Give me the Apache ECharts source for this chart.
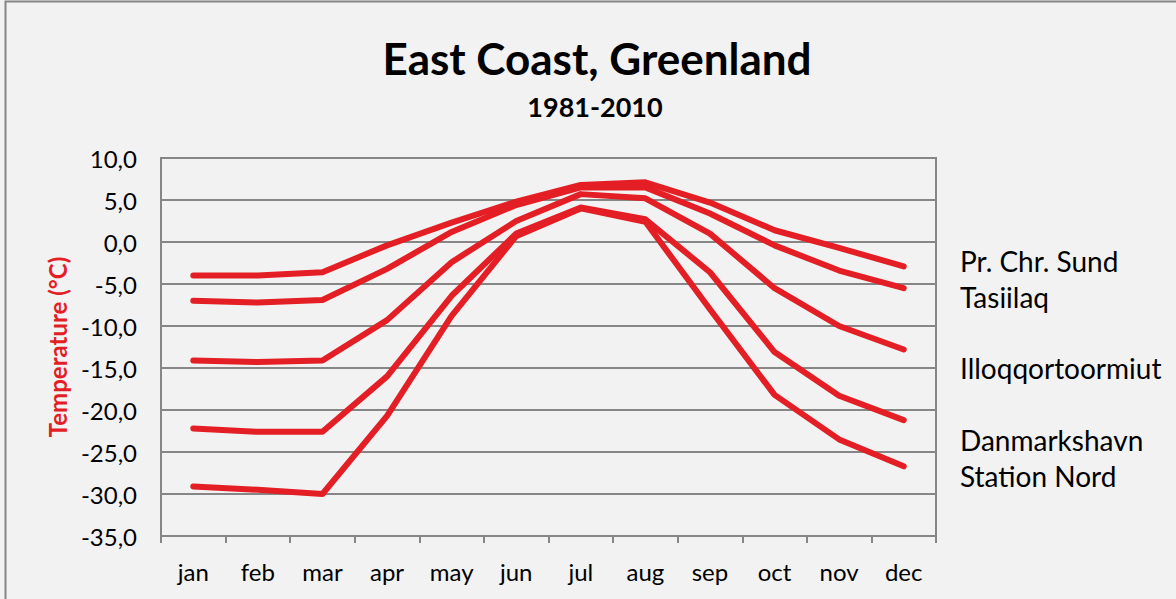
<!DOCTYPE html>
<html>
<head>
<meta charset="utf-8">
<script src="https://cdn.jsdelivr.net/npm/echarts@6/dist/echarts.min.js"></script>
<style>
html,body{margin:0;padding:0;background:#f2f2f2;}
#chart{width:1176px;height:599px;}
</style>
</head>
<body>
<div id="chart"></div>
<script>
var months = ['jan','feb','mar','apr','may','jun','jul','aug','sep','oct','nov','dec'];
var prChrSund       = [-4.0, -4.0, -3.6, -0.4,  2.3, 4.8, 6.8, 7.1,  4.7,   1.4,  -0.7,  -2.9];
var tasiilaq        = [-7.0, -7.2, -6.9, -3.2,  1.2, 4.4, 6.5, 6.5,  3.4,  -0.4,  -3.4,  -5.5];
var illoqqortoormiut= [-14.1,-14.3,-14.1,-9.3, -2.4, 2.5, 5.7, 5.2,  1.0,  -5.5, -10.0, -12.8];
var danmarkshavn    = [-22.2,-22.6,-22.6,-16.0,-6.4, 1.0, 4.1, 2.7, -3.6, -13.1, -18.3, -21.2];
var stationNord     = [-29.1,-29.5,-30.0,-20.7,-8.8, 0.7, 4.0, 2.4, -8.0, -18.2, -23.5, -26.7];
var seriesNames = ['Pr. Chr. Sund','Tasiilaq','Illoqqortoormiut','Danmarkshavn','Station Nord'];
var seriesData = [prChrSund, tasiilaq, illoqqortoormiut, danmarkshavn, stationNord];
var labelLines = ['Pr. Chr. Sund','Tasiilaq','','Illoqqortoormiut','','Danmarkshavn','Station Nord'];
var titleText = 'East Coast, Greenland';
var subtitleText = '1981-2010';
var yAxisName = 'Temperature (°C)';

var RED = '#e31e24';
var GREY = '#868686';
var FONT = 'Lato';

var chart = echarts.init(document.getElementById('chart'), null, {renderer:'svg'});
var option = {
  backgroundColor: '#f2f2f2',
  animation: false,
  graphic: [
    {type:'rect', shape:{x:5.5, y:1.5, width:1300, height:800}, style:{fill:'none', stroke:GREY, lineWidth:2}, silent:true, z:-1},
    {type:'text', x:597, y:58, style:{text:titleText, font:'bold 44px ' + FONT, fill:'#000', textAlign:'center', textVerticalAlign:'middle'}},
    {type:'text', x:595, y:106, style:{text:subtitleText, font:'bold 27px ' + FONT, fill:'#000', textAlign:'center', textVerticalAlign:'middle'}},
    {type:'text', x:960, y:243, style:{text:labelLines.join('\n'), font:'28px ' + FONT, lineHeight:35.8, fill:'#000', textAlign:'left', textVerticalAlign:'top'}}
  ],
  grid: {left:161, right:240, top:158, bottom:63, show:true, borderColor:GREY, borderWidth:2},
  xAxis: {
    type:'category', data: months, boundaryGap:true,
    axisLine:{show:true, onZero:false, lineStyle:{color:GREY, width:2}},
    axisTick:{show:true, length:7, lineStyle:{color:GREY, width:2}},
    axisLabel:{color:'#000', fontFamily:FONT, fontSize:24, margin:23}
  },
  yAxis: {
    type:'value', min:-35, max:10, interval:5,
    name: yAxisName, nameLocation:'middle', nameRotate:90, nameGap:90,
    nameTextStyle:{color:RED, fontFamily:FONT, fontWeight:'bold', fontSize:24},
    axisLine:{show:true, lineStyle:{color:GREY, width:2}},
    axisTick:{show:false},
    splitLine:{show:true, lineStyle:{color:GREY, width:2}},
    axisLabel:{color:'#000', fontFamily:FONT, fontSize:24, margin:24,
      formatter:function(v){return v.toFixed(1).replace('.', ',');}}
  },
  series: seriesNames.map(function(n, i){
    return {name:n, type:'line', data:seriesData[i], symbol:'none', smooth:false,
      lineStyle:{color:RED, width:6, cap:'round', join:'round'}};
  })
};
chart.setOption(option);
</script>
</body>
</html>
